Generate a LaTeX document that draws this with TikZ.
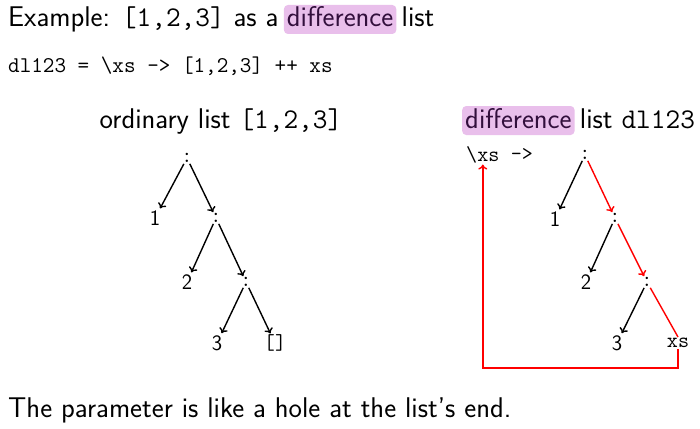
\documentclass[tikz,border=0pt]{standalone}
\usepackage{tikz}
\usetikzlibrary{positioning,arrows.meta}
\renewcommand{\familydefault}{\sfdefault}
\definecolor{hlpink}{RGB}{233,191,235}
\definecolor{hltext}{RGB}{50,15,60}

\begin{document}
\begin{tikzpicture}[x=1pt,y=-1pt]
        \tikzset{
            big/.style={font=\fontsize{28.5}{32}\selectfont, inner sep=0pt},
            code/.style={font=\ttfamily\fontsize{22.5}{26}\selectfont, inner sep=0pt},
            hlbox/.style={big, fill=hlpink, text=hltext, rounded corners=4pt, inner xsep=3pt, inner ysep=1pt, text height=21pt, text depth=6pt},
            cons/.style={font=\ttfamily\fontsize{21.5}{24}\selectfont, inner sep=1pt},
            leaf/.style={font=\fontsize{22}{24}\selectfont, inner sep=2pt},
            link/.style={-{To[length=5pt,width=9pt]}, line width=1.4pt},
            hole/.style={red, line width=1.4pt}
        }
        \useasboundingbox (0,0) rectangle (700,428);
        % heading
        \node[big, anchor=base west] (head) at (8,27) {Example: \texttt{[1,2,3]} as a};
        \node[hlbox, base right=5pt of head] (headdiff) {difference};
        \node[big, base right=5pt of headdiff] (headlist) {list};
        \node[code, anchor=base west] (def) at (8,72) {dl123 = \textbackslash xs -> [1,2,3] ++ xs};
        % ordinary list
        \node[big] (ordlabel) at (221,122) {ordinary list \texttt{[1,2,3]}};
        \node[cons] (r1) at (187,158) {:};
        \node[leaf] (n1) at (155,218) {1};
        \node[cons] (r2) at (216,218) {:};
        \node[leaf] (n2) at (187,282) {2};
        \node[cons] (r3) at (246,282) {:};
        \node[leaf] (n3) at (217,343) {3};
        \node[cons] (nil) at (275,343) {[]};
        \draw[link] (r1) -- (n1);
        \draw[link] (r1) -- (r2);
        \draw[link] (r2) -- (n2);
        \draw[link] (r2) -- (r3);
        \draw[link] (r3) -- (n3);
        \draw[link] (r3) -- (nil);
        % difference list
        \node[hlbox, anchor=base west] (difflabel) at (462,128) {difference};
        \node[big, base right=5pt of difflabel] (difflist) {list \texttt{dl123}};
        \node[cons, anchor=west, inner xsep=0pt] (lam) at (466,155) {\textbackslash xs};
        \node[cons, right=11pt of lam, inner xsep=0pt] (lamarrow) {->};
        \node[cons] (s1) at (585,155) {:};
        \node[leaf] (m1) at (555,219) {1};
        \node[cons] (s2) at (615,218) {:};
        \node[leaf] (m2) at (586,282) {2};
        \node[cons] (s3) at (647,282) {:};
        \node[leaf] (m3) at (617,343) {3};
        \node[cons] (xs) at (678,343) {xs};
        \draw[link] (s1) -- (m1);
        \draw[link, red] (s1) -- (s2);
        \draw[link] (s2) -- (m2);
        \draw[link, red] (s2) -- (s3);
        \draw[link] (s3) -- (m3);
        \draw[hole] (s3) -- (xs.north);
        \draw[hole, link] (xs.south) -- ++(0,19) -| (lam.south);
        % bottom line
        \node[big, anchor=base west] (moral) at (8,417) {The parameter is like a hole at the list's end.};
    \end{tikzpicture}
\end{document}
